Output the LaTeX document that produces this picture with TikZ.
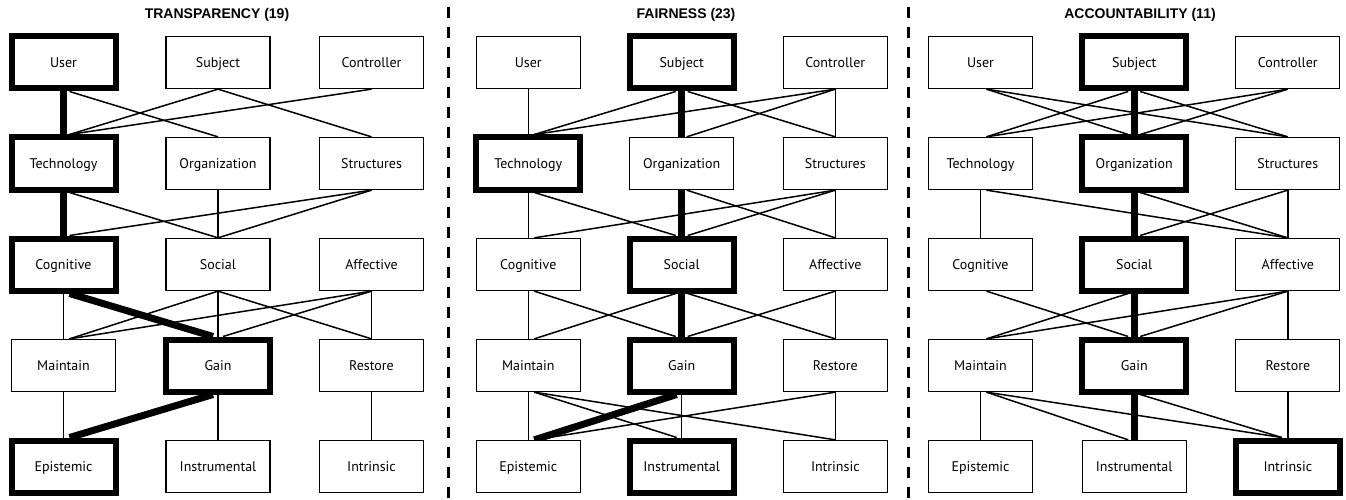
\documentclass[tikz,border=0pt]{standalone}
\usepackage{fontspec}
\setmainfont{PT Sans}
\newfontfamily\titlefont{Liberation Sans}
\pgfdeclarelayer{bg}
\pgfsetlayers{bg,main}
\tikzset{
  box/.style={draw, line width=1.3pt, fill=white, minimum width=104pt, minimum height=52pt,
    inner sep=0pt, text height=11.5pt, text depth=1.5pt, font=\fontsize{14}{16}\selectfont},
  hbox/.style={box, line width=6pt},
  ln/.style={line width=1.5pt},
  hl/.style={line width=7pt},
  sep/.style={line width=3pt, dash pattern=on 11pt off 9pt},
  ttl/.style={font=\titlefont\bfseries\fontsize{14}{16}\selectfont},
  st A11/.style=hbox, st A21/.style=hbox, st A31/.style=hbox, st A42/.style=hbox, st A51/.style=hbox,
  st B12/.style=hbox, st B21/.style=hbox, st B32/.style=hbox, st B42/.style=hbox, st B52/.style=hbox,
  st C12/.style=hbox, st C22/.style=hbox, st C32/.style=hbox, st C42/.style=hbox, st C53/.style=hbox,
}
\newcommand\cn[4]{\draw[ln] ([xshift=#2pt]#1.south) -- ([xshift=#4pt]#3.north);}
\newcommand\ch[4]{\draw[hl] ([xshift=#2pt]#1.south) -- ([xshift=#4pt]#3.north);}
\begin{document}
\begin{tikzpicture}[x=1pt,y=-1pt]
\useasboundingbox (0,0) rectangle (1346,500);
\foreach \p/\xa/\xb/\xc in {A/63.5/218/371.5, B/528.3/681.7/835.3, C/980.5/1134.2/1287.8} {
  \foreach \r/\y/\la/\lb/\lc in {1/62.5/User/Subject/Controller,
      2/163.5/Technology/Organization/Structures,
      3/264.5/Cognitive/Social/Affective,
      4/365.5/Maintain/Gain/Restore,
      5/466.5/Epistemic/Instrumental/Intrinsic} {
    \node[box, st \p\r1/.try] (\p\r1) at (\xa,\y) {\la};
    \node[box, st \p\r2/.try] (\p\r2) at (\xb,\y) {\lb};
    \node[box, st \p\r3/.try] (\p\r3) at (\xc,\y) {\lc};
  }
}
\node[ttl] (tA) at (217,15) {TRANSPARENCY (19)};
\node[ttl] (tB) at (686,15) {FAIRNESS (23)};
\node[ttl] (tC) at (1140,15) {ACCOUNTABILITY (11)};
\coordinate (s1t) at (448.3,7);
\coordinate (s1b) at (448.3,500);
\coordinate (s2t) at (908,7);
\coordinate (s2b) at (908,500);
\draw[sep] (s1t) -- (s1b);
\draw[sep] (s2t) -- (s2b);
\begin{pgfonlayer}{bg}
% Panel A
\cn{A11}{6}{A22}{0} \cn{A12}{0}{A21}{6} \cn{A12}{0}{A23}{0} \cn{A13}{0}{A21}{6}
\cn{A21}{6}{A32}{0} \cn{A22}{0}{A32}{0} \cn{A23}{0}{A31}{6} \cn{A23}{0}{A32}{0}
\cn{A31}{0}{A41}{0} \cn{A32}{0}{A41}{6} \cn{A32}{0}{A42}{0} \cn{A32}{0}{A43}{0}
\cn{A33}{0}{A41}{6} \cn{A33}{0}{A42}{5} \cn{A33}{0}{A43}{0}
\cn{A41}{0}{A51}{0} \cn{A42}{0}{A52}{0} \cn{A43}{0}{A53}{0}
\ch{A11}{0}{A21}{0} \ch{A21}{0}{A31}{0} \ch{A31}{6}{A42}{-5} \ch{A42}{-5}{A51}{6}
% Panel B
\cn{B11}{0}{B21}{0} \cn{B12}{-6}{B21}{6} \cn{B12}{6}{B23}{0} \cn{B13}{0}{B21}{6}
\cn{B13}{0}{B22}{5} \cn{B13}{0}{B23}{0}
\cn{B21}{0}{B31}{0} \cn{B21}{6}{B32}{-6} \cn{B22}{5}{B33}{0} \cn{B23}{0}{B31}{6}
\cn{B23}{0}{B32}{6} \cn{B23}{0}{B33}{0}
\cn{B31}{0}{B41}{0} \cn{B31}{6}{B42}{-6} \cn{B32}{-6}{B41}{6} \cn{B32}{6}{B43}{0}
\cn{B33}{0}{B42}{6} \cn{B33}{0}{B43}{0}
\cn{B41}{0}{B51}{0} \cn{B41}{6}{B52}{-5} \cn{B41}{6}{B53}{0} \cn{B42}{0}{B52}{0}
\cn{B43}{0}{B51}{6} \cn{B43}{0}{B53}{0}
\ch{B12}{0}{B22}{0} \ch{B22}{0}{B32}{0} \ch{B32}{0}{B42}{0} \ch{B42}{-5}{B51}{6}
% Panel C
\cn{C11}{6}{C22}{-6} \cn{C11}{6}{C23}{0} \cn{C12}{-6}{C21}{6} \cn{C12}{6}{C23}{0}
\cn{C13}{0}{C21}{6} \cn{C13}{0}{C22}{6}
\cn{C21}{0}{C31}{0} \cn{C21}{6}{C33}{0} \cn{C22}{6}{C33}{0} \cn{C23}{0}{C32}{6}
\cn{C23}{0}{C33}{0}
\cn{C31}{6}{C42}{-6} \cn{C32}{-6}{C41}{6} \cn{C33}{0}{C41}{6} \cn{C33}{0}{C42}{6}
\cn{C33}{0}{C43}{0}
\cn{C41}{0}{C51}{0} \cn{C41}{6}{C52}{-6} \cn{C41}{6}{C53}{-6} \cn{C42}{6}{C53}{-6}
\cn{C43}{0}{C53}{0}
\ch{C12}{0}{C22}{0} \ch{C22}{0}{C32}{0} \ch{C32}{0}{C42}{0} \ch{C42}{0}{C52}{0}
\end{pgfonlayer}
\end{tikzpicture}
\end{document}
